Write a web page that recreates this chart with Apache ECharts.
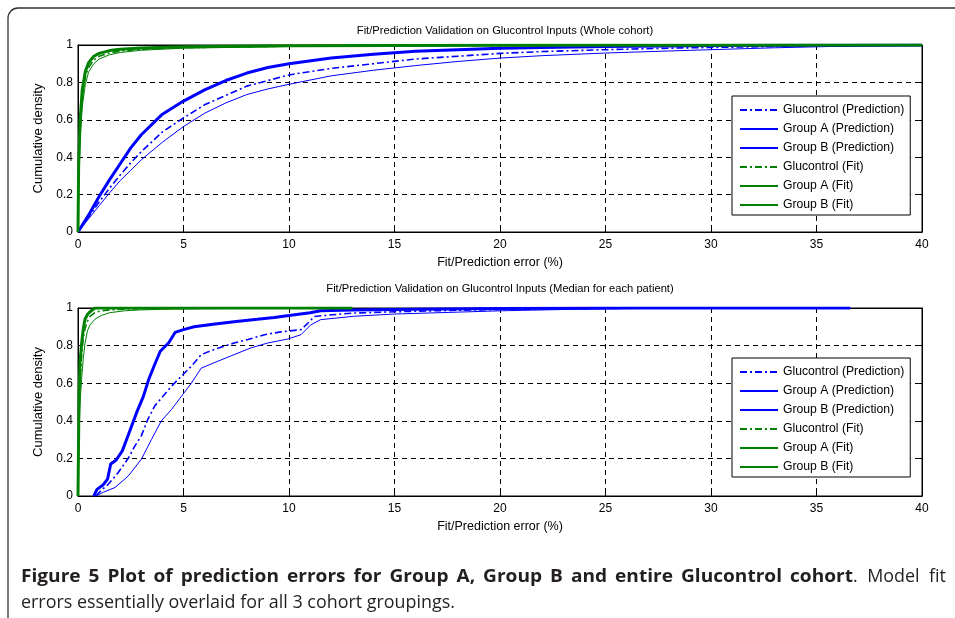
<!DOCTYPE html>
<html><head><meta charset="utf-8">
<script src="https://cdn.jsdelivr.net/npm/echarts@6/dist/echarts.min.js"></script>
<style>html,body{margin:0;padding:0;background:#fff}#c{width:955px;height:618px}</style>
</head><body><div id="c"></div>
<script>
// ---------- DATA ----------
const seriesNames = ['Glucontrol (Prediction)','Group A (Prediction)','Group B (Prediction)','Glucontrol (Fit)','Group A (Fit)','Group B (Fit)'];

// Top panel: whole cohort
const topPredX          = [0,0.5,1,1.5,2,2.5,3,4,5,6,7,8,9,10,12,14,16,18,20,22,25,28,30,33,36,40];
const topPredGlucontrol = [0,0.08,0.16,0.235,0.305,0.37,0.43,0.535,0.61,0.68,0.73,0.78,0.81,0.84,0.875,0.90,0.925,0.94,0.955,0.965,0.975,0.983,0.987,0.992,0.996,0.998];
const topPredGroupA     = [0,0.07,0.14,0.21,0.275,0.33,0.386,0.48,0.564,0.635,0.69,0.735,0.765,0.79,0.835,0.865,0.89,0.912,0.93,0.943,0.957,0.968,0.975,0.985,0.993,0.997];
const topPredGroupB     = [0,0.09,0.19,0.28,0.365,0.45,0.52,0.63,0.70,0.76,0.81,0.85,0.88,0.90,0.93,0.95,0.966,0.975,0.982,0.987,0.992,0.995,0.997,0.998,0.999,1];
const topFitX           = [0,0.03,0.1,0.2,0.35,0.5,0.75,1,1.5,2,3,5,10,20,40];
const topFitGlucontrol  = [0,0.3,0.55,0.72,0.83,0.88,0.92,0.94,0.958,0.968,0.978,0.986,0.994,0.998,1];
const topFitGroupA      = [0,0.25,0.5,0.67,0.79,0.855,0.9,0.925,0.948,0.96,0.972,0.983,0.992,0.997,1];
const topFitGroupB      = [0,0.35,0.6,0.76,0.86,0.905,0.94,0.955,0.97,0.977,0.984,0.99,0.996,0.999,1];

// Bottom panel: median for each patient
const botPredGlucontrolX = [0.85,1.1,1.43,1.9,2.38,2.69,3.0,3.32,3.64,3.95,4.43,4.9,5.37,5.84,6.47,7.4,8.05,8.84,9.62,10.57,10.9,11.2,12.45,13.07,15,18,20,25,30,36.6];
const botPredGlucontrolY = [0,0.03,0.062,0.124,0.2,0.265,0.32,0.41,0.48,0.52,0.584,0.637,0.69,0.752,0.78,0.814,0.832,0.858,0.873,0.885,0.92,0.955,0.968,0.973,0.98,0.988,0.992,0.998,1,1];
const botPredGroupAX     = [0.85,1.2,1.75,2.38,3.0,3.48,3.95,4.43,4.9,5.37,5.84,6.63,7.4,8.2,9.0,9.94,10.57,11.03,11.5,13.07,15,18,20,23,27,36.6];
const botPredGroupAY     = [0,0.02,0.045,0.106,0.195,0.3,0.4,0.46,0.53,0.6,0.68,0.717,0.752,0.788,0.814,0.835,0.858,0.91,0.938,0.956,0.968,0.978,0.985,0.992,0.998,1];
const botPredGroupBX     = [0.75,0.9,1.2,1.4,1.55,1.8,2.1,2.4,2.6,2.8,3.1,3.35,3.6,3.9,4.3,4.6,5.0,5.5,6.5,7.5,8.5,9.3,10,11,11.5,13,16,20,25,36.6];
const botPredGroupBY     = [0,0.035,0.06,0.09,0.17,0.19,0.24,0.33,0.39,0.45,0.53,0.62,0.69,0.77,0.815,0.87,0.885,0.9,0.915,0.928,0.94,0.95,0.96,0.975,0.985,0.99,0.994,0.998,1,1];
const botFitX            = [0,0.05,0.1,0.17,0.25,0.33,0.45,0.57,0.8,1.1,1.5,2.2,3,4.6,8,13];
const botFitGlucontrol   = [0,0.45,0.62,0.74,0.84,0.89,0.93,0.955,0.975,0.985,0.99,0.994,0.996,0.998,0.999,1];
const botFitGroupA       = [0,0.35,0.5,0.62,0.73,0.81,0.88,0.91,0.94,0.96,0.975,0.985,0.99,0.995,0.998,1];
const botFitGroupB       = [0,0.55,0.72,0.81,0.89,0.94,0.965,0.98,1,1,1,1,1,1,1,1];

const titles = ['Fit/Prediction Validation on Glucontrol Inputs (Whole cohort)','Fit/Prediction Validation on Glucontrol Inputs (Median for each patient)'];
const xAxisName = 'Fit/Prediction error (%)';
const yAxisName = 'Cumulative density';
const captionBold = 'Figure 5 Plot of prediction errors for Group A, Group B and entire Glucontrol cohort';
const captionRest1 = '. Model fit';
const captionLine2 = 'errors essentially overlaid for all 3 cohort groupings.';

// ---------- STYLE ----------
const FONT = '"Liberation Sans", Arial, Helvetica, sans-serif';
const CAPFONT = '"Open Sans", Lato, sans-serif';
const BLUE = '#0000ff', GREEN = '#008000';
const DASHDOT = [7,3,2,3];
const styles = {
  'Glucontrol (Prediction)': {color: BLUE, width: 1.6, type: DASHDOT},
  'Group A (Prediction)': {color: BLUE, width: 1, type: 'solid'},
  'Group B (Prediction)': {color: BLUE, width: 3, type: 'solid'},
  'Glucontrol (Fit)': {color: GREEN, width: 1.6, type: DASHDOT},
  'Group A (Fit)': {color: GREEN, width: 1, type: 'solid'},
  'Group B (Fit)': {color: GREEN, width: 3, type: 'solid'}
};
function zip(xs, ys){ return xs.map((x,i)=>[x, ys[i]]); }
function mk(name, idx, xs, ys){
  const s = styles[name];
  return {name, type:'line', xAxisIndex: idx*2, yAxisIndex: idx*2, data: zip(xs, ys),
    showSymbol:false, symbol:'none', smooth:false, animation:false, silent:true,
    itemStyle:{color:s.color}, lineStyle:{color:s.color, width:s.width, type:s.type}};
}
const series = [
  mk(seriesNames[0],0,topPredX,topPredGlucontrol),
  mk(seriesNames[1],0,topPredX,topPredGroupA),
  mk(seriesNames[2],0,topPredX,topPredGroupB),
  mk(seriesNames[3],0,topFitX,topFitGlucontrol),
  mk(seriesNames[4],0,topFitX,topFitGroupA),
  mk(seriesNames[5],0,topFitX,topFitGroupB),
  mk(seriesNames[0],1,botPredGlucontrolX,botPredGlucontrolY),
  mk(seriesNames[1],1,botPredGroupAX,botPredGroupAY),
  mk(seriesNames[2],1,botPredGroupBX,botPredGroupBY),
  mk(seriesNames[3],1,botFitX,botFitGlucontrol),
  mk(seriesNames[4],1,botFitX,botFitGroupA),
  mk(seriesNames[5],1,botFitX,botFitGroupB)
];

const grids = [
  {left:78, top:45, width:844, height:187},
  {left:78, top:308, width:844, height:188}
];
const xAxes = [], yAxes = [];
grids.forEach((g, i) => {
  xAxes.push({gridIndex:i, type:'value', position:'bottom', min:0, max:40, interval:5,
    axisLine:{show:true, onZero:false, lineStyle:{color:'#000', width:1}},
    axisTick:{show:true, inside:true, length:4, lineStyle:{color:'#000'}},
    axisLabel:{margin:7, fontSize:12, color:'#000', fontFamily:FONT},
    splitLine:{show:true, lineStyle:{color:'#000', width:1, type:[5,4]}},
    name:xAxisName, nameLocation:'middle', nameGap:24,
    nameTextStyle:{fontSize:12.5, color:'#000', fontFamily:FONT}});
  xAxes.push({gridIndex:i, type:'value', position:'top', min:0, max:40, interval:5,
    axisLine:{show:true, onZero:false, lineStyle:{color:'#000', width:1}},
    axisTick:{show:true, inside:true, length:4, lineStyle:{color:'#000'}},
    axisLabel:{show:false}, splitLine:{show:false}});
  yAxes.push({gridIndex:i, type:'value', position:'left', min:0, max:1, interval:0.2,
    axisLine:{show:true, onZero:false, lineStyle:{color:'#000', width:1}},
    axisTick:{show:true, inside:true, length:4, lineStyle:{color:'#000'}},
    axisLabel:{margin:5, fontSize:12, color:'#000', fontFamily:FONT,
      formatter: v => String(parseFloat(v.toFixed(1)))},
    splitLine:{show:true, lineStyle:{color:'#000', width:1, type:[5,4]}},
    name:yAxisName, nameLocation:'middle', nameGap:26, nameRotate:90,
    nameTextStyle:{fontSize:13, color:'#000', fontFamily:FONT}});
  yAxes.push({gridIndex:i, type:'value', position:'right', min:0, max:1, interval:0.2,
    axisLine:{show:true, onZero:false, lineStyle:{color:'#000', width:1}},
    axisTick:{show:true, inside:true, length:4, lineStyle:{color:'#000'}},
    axisLabel:{show:false}, splitLine:{show:false}});
});

function legendFor(top){
  return {data: seriesNames, orient:'vertical', left:732, top:top,
    backgroundColor:'#fff', borderColor:'#000', borderWidth:1, borderRadius:0,
    padding:[8,6,4,7], itemWidth:38, itemHeight:10, itemGap:7,
    itemStyle:{opacity:0}, selectedMode:false,
    textStyle:{fontSize:12.2, color:'#000', fontFamily:FONT, lineHeight:12}};
}

// ---------- CAPTION LAYOUT (justified first line) ----------
const mctx = document.createElement('canvas').getContext('2d');
function tw(text, font){ mctx.font = font; return mctx.measureText(text).width; }
const CAP_LEFT = 21, CAP_RIGHT = 946, LINE2_RIGHT = 454, BOLD_RIGHT = 853, WORD_GAP = 8;
const capSize = Math.round(100 * (LINE2_RIGHT - CAP_LEFT) / tw(captionLine2, '100px ' + CAPFONT) * 10) / 10;
const fontB = 'bold ' + capSize + 'px ' + CAPFONT;
const fontN = capSize + 'px ' + CAPFONT;
const capColor = '#231f20';
const captionGraphics = [];
// bold run: words with fixed gaps, horizontally stretched to reach BOLD_RIGHT
const boldWords = captionBold.split(' ');
const boldNatural = boldWords.reduce((s, w) => s + tw(w, fontB), 0);
const kB = (BOLD_RIGHT - CAP_LEFT - WORD_GAP * (boldWords.length - 1)) / boldNatural;
let cx = CAP_LEFT;
boldWords.forEach(w => {
  captionGraphics.push({type:'text', x:cx, y:577, scaleX:kB, silent:true,
    style:{text:w, font:fontB, fill:capColor, textVerticalAlign:'middle'}});
  cx += tw(w, fontB) * kB + WORD_GAP;
});
// regular run: ". Model fit" justified up to CAP_RIGHT
const restWords = captionRest1.slice(2).split(' ');
captionGraphics.push({type:'text', x:BOLD_RIGHT, y:577, silent:true,
  style:{text:'.', font:fontN, fill:capColor, textVerticalAlign:'middle'}});
const restStart = BOLD_RIGHT + tw('.', fontN);
const restNatural = restWords.reduce((s, w) => s + tw(w, fontN), 0);
const restGap = (CAP_RIGHT - restStart - restNatural) / restWords.length;
cx = restStart + restGap;
restWords.forEach(w => {
  captionGraphics.push({type:'text', x:cx, y:577, silent:true,
    style:{text:w, font:fontN, fill:capColor, textVerticalAlign:'middle'}});
  cx += tw(w, fontN) + restGap;
});
captionGraphics.push({type:'text', x:CAP_LEFT, y:603, silent:true,
  style:{text:captionLine2, font:fontN, fill:capColor, textVerticalAlign:'middle'}});

const chart = echarts.init(document.getElementById('c'), null, {renderer:'canvas'});
chart.setOption({
  animation:false,
  backgroundColor:'#fff',
  grid: grids.map(g => Object.assign({show:true, borderColor:'#000', borderWidth:1, backgroundColor:'transparent'}, g)),
  xAxis: xAxes,
  yAxis: yAxes,
  legend: [legendFor(96), legendFor(358)],
  series: series,
  graphic: [
    {type:'rect', shape:{x:8, y:8, width:1000, height:700, r:10}, style:{fill:'none', stroke:'#333', lineWidth:1.3}, silent:true, z:-1},
    {type:'text', x:505, y:25, silent:true, style:{text:titles[0], font:'11.2px ' + FONT, fill:'#000', textAlign:'center'}},
    {type:'text', x:500, y:283, silent:true, style:{text:titles[1], font:'11.2px ' + FONT, fill:'#000', textAlign:'center'}}
  ].concat(captionGraphics)
});
</script></body></html>
